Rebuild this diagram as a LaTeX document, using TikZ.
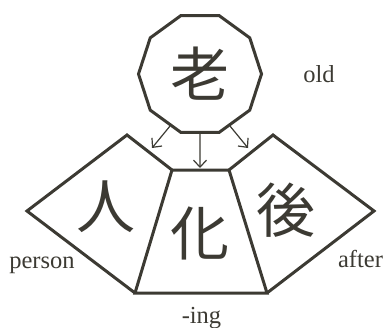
\documentclass[tikz,border=0pt]{standalone}
\usepackage{fontspec}
\setmainfont{Liberation Serif}
\newfontfamily\cjk{Noto Sans CJK JP}
\usetikzlibrary{arrows.meta, positioning, calc, shapes.geometric}
\definecolor{ink}{HTML}{3C3A33}

\begin{document}
\begin{tikzpicture}[x=1pt, y=1pt,
        part/.style={draw=ink, line width=3pt, line join=miter},
        kanji/.style={font=\cjk\fontsize{59}{59}\selectfont, text=ink, inner sep=0pt},
        gloss/.style={font=\fontsize{24.5}{24.5}\selectfont, text=ink, anchor=base, inner sep=0pt},
        arr/.style={-{Straight Barb[length=7pt, width=13pt]}, draw=ink, line width=1.2pt}
    ]
        \useasboundingbox (0,0) rectangle (387,327);

        \node[regular polygon, regular polygon sides=10, part, kanji, minimum size=123pt] (old) at (200,253) {老};

        \coordinate (mTL) at (172,157);
        \coordinate (mTR) at (229,157);
        \coordinate (mBR) at (267,34);
        \coordinate (mBL) at (135,34);
        \coordinate (lT) at (127,192);
        \coordinate (lW) at (27,116);
        \coordinate (rT) at (273,192);
        \coordinate (rE) at (374,116);

        \draw[part] (mTL) -- (mTR) -- (mBR) -- (mBL) -- cycle;
        \draw[part] (mTL) -- (lT) -- (lW) -- (mBL);
        \draw[part] (mTR) -- (rT) -- (rE) -- (mBR);

        \node[kanji] (person) at (106,120) {人};
        \node[kanji] (ing) at (200,94) {化};
        \node[kanji] (after) at (286,117) {後};

        \coordinate (tipL) at (152,179);
        \coordinate (tipM) at (200,159);
        \coordinate (tipR) at (248,179);

        \draw[arr] (old.240) -- (tipL);
        \draw[arr] (old.south) -- (tipM);
        \draw[arr] (old.300) -- (tipR);

        \node[gloss] (oldtxt) at (319,244) {old};
        \node[gloss] (persontxt) at (42,59) {person};
        \node[gloss] (aftertxt) at (360.5,60) {after};
        \node[gloss] (ingtxt) at (201.5,4) {-ing};
    \end{tikzpicture}
\end{document}
